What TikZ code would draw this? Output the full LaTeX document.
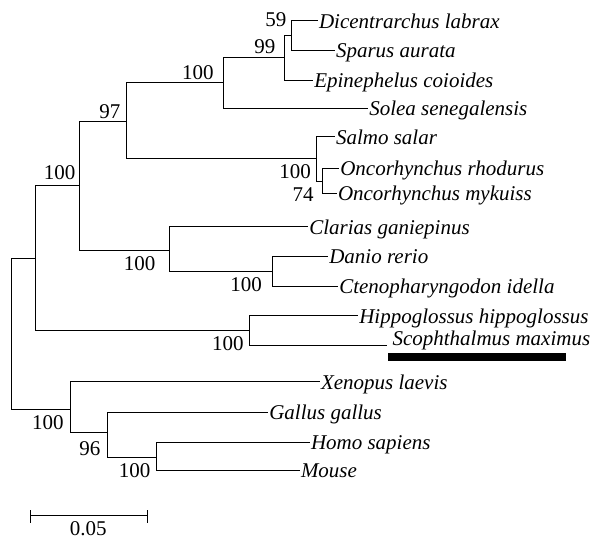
\documentclass[tikz,border=0pt]{standalone}
\usepackage{fontspec}
\setmainfont{Liberation Serif}
\begin{document}
\begin{tikzpicture}[x=1pt,y=-1pt,
  branch/.style={draw=black,line width=0.85pt},
  leaf/.style={anchor=west,inner sep=0pt,inner xsep=1pt,outer sep=0pt,
    text height=19pt,text depth=4pt,font=\fontsize{21}{21}\selectfont\itshape},
  boot/.style={anchor=base east,inner sep=0pt,font=\fontsize{21}{21}\selectfont}]
\useasboundingbox (0,0) rectangle (594,540);

% internal nodes of the tree (x = depth, y = attachment height)
\coordinate (root)  at (11.7,333.7);
\coordinate (fish)  at (35.7,258.3);
\coordinate (tele)  at (79.3,185);
\coordinate (n97)   at (126,121.7);
\coordinate (perc)  at (223.3,82.3);
\coordinate (n99)   at (284.3,57.5);
\coordinate (n59)   at (291.7,35);
\coordinate (salm)  at (316.7,158.3);
\coordinate (onco)  at (322.7,181);
\coordinate (clar)  at (169.3,250);
\coordinate (dan)   at (272.7,271.7);
\coordinate (flat)  at (249.3,330);
\coordinate (tetra) at (70.7,409);
\coordinate (n96)   at (107.3,432.7);
\coordinate (hm)    at (156.3,457.3);
\coordinate (smend) at (386.5,345.7);

% taxa
\node[leaf] (dl)  at (318,20.7)  {Dicentrarchus labrax};
\node[leaf] (sa)  at (335,50)    {Sparus aurata};
\node[leaf] (ec)  at (313.3,80)  {Epinephelus coioides};
\node[leaf] (so)  at (368.3,108.3) {Solea senegalensis};
\node[leaf] (ss)  at (335,136.7) {Salmo salar};
\node[leaf] (orh) at (339.3,168.3) {Oncorhynchus rhodurus};
\node[leaf] (om)  at (337,193)   {Oncorhynchus mykuiss};
\node[leaf] (cg)  at (308.3,226.7) {Clarias ganiepinus};
\node[leaf] (dr)  at (328.3,256) {Danio rerio};
\node[leaf] (ci)  at (338.3,286) {Ctenopharyngodon idella};
\node[leaf] (hh)  at (358.3,315.5) {Hippoglossus hippoglossus};
\node[leaf,inner xsep=6pt] (sm) at ([yshift=7.5pt]smend) {Scophthalmus maximus};
\node[leaf] (xl)  at (320,381.7) {Xenopus laevis};
\node[leaf] (gg)  at (268.3,412) {Gallus gallus};
\node[leaf] (hs)  at (310,442)   {Homo sapiens};
\node[leaf] (mo)  at (300,470)   {Mouse};

% branches
\draw[branch] (root) |- (fish);  \draw[branch] (root) |- (tetra);
\draw[branch] (fish) |- (tele);  \draw[branch] (fish) |- (flat);
\draw[branch] (tele) |- (n97);   \draw[branch] (tele) |- (clar);
\draw[branch] (n97) |- (perc);   \draw[branch] (n97) |- (salm);
\draw[branch] (perc) |- (n99);   \draw[branch] (perc) |- (so.west);
\draw[branch] (n99) |- (n59);    \draw[branch] (n99) |- (ec.west);
\draw[branch] (n59) |- (dl.west);\draw[branch] (n59) |- (sa.west);
\draw[branch] (salm) |- (ss.west); \draw[branch] (salm) |- (onco);
\draw[branch] (onco) |- (orh.west);\draw[branch] (onco) |- (om.west);
\draw[branch] (clar) |- (cg.west); \draw[branch] (clar) |- (dan);
\draw[branch] (dan) |- (dr.west);  \draw[branch] (dan) |- (ci.west);
\draw[branch] (flat) |- (hh.west); \draw[branch] (flat) |- (smend);
\draw[branch] (tetra) |- (xl.west);\draw[branch] (tetra) |- (n96);
\draw[branch] (n96) |- (gg.west);  \draw[branch] (n96) |- (hm);
\draw[branch] (hm) |- (hs.west);   \draw[branch] (hm) |- (mo.west);

% bootstrap values
\node[boot] (b59)   at (286.5,26.7)  {59};
\node[boot] (b99)   at (275.5,53.3)  {99};
\node[boot] (bperc) at (213.8,80)    {100};
\node[boot] (b97)   at (120.5,119)   {97};
\node[boot] (btele) at (75.5,180)    {100};
\node[boot] (bsalm) at (311,178.3)   {100};
\node[boot] (b74)   at (313.8,202)   {74};
\node[boot] (bclar) at (155.5,270)   {100};
\node[boot] (bdan)  at (262,291.7)   {100};
\node[boot] (bflat) at (243.8,350.7) {100};
\node[boot] (btet)  at (63.8,429.3)  {100};
\node[boot] (b96)   at (100.5,455)   {96};
\node[boot] (bhm)   at (150.5,477.3) {100};

% highlight bar under the turbot
\node[fill=black,inner sep=0pt,minimum width=178.5pt,minimum height=8pt] (bar) at (476.75,357.3) {};

% scale bar
\coordinate (sL) at (30,515);
\coordinate (sR) at (147.7,515);
\draw[branch] (sL) -- (sR);
\draw[branch] ([yshift=5pt]sL) -- ([yshift=-8pt]sL);
\draw[branch] ([yshift=5pt]sR) -- ([yshift=-8pt]sR);
\node[anchor=base,inner sep=0pt,font=\fontsize{21}{21}\selectfont] (scale) at (88.3,535) {0.05};
\end{tikzpicture}
\end{document}
